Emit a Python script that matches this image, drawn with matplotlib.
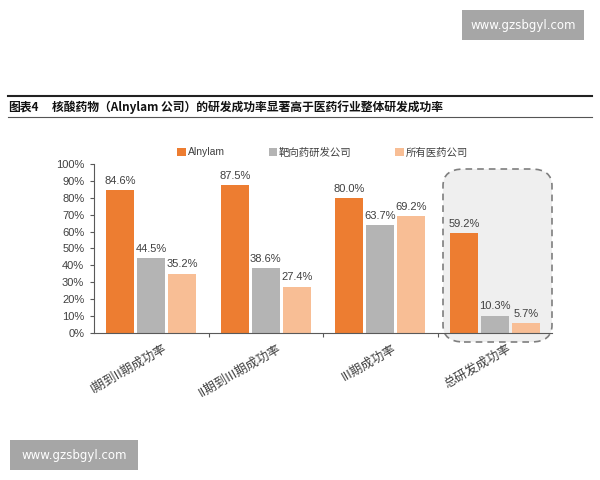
import matplotlib
matplotlib.use("Agg")
import matplotlib.pyplot as plt
from matplotlib.patches import FancyBboxPatch, Rectangle
import numpy as np

plt.rcParams['font.family'] = ['Noto Sans CJK SC', 'DejaVu Sans']

categories = ["I期到II期成功率", "II期到III期成功率", "III期成功率", "总研发成功率"]
series_names = ["Alnylam", "靶向药研发公司", "所有医药公司"]
alnylam = [84.6, 87.5, 80.0, 59.2]
targeted = [44.5, 38.6, 63.7, 10.3]
all_pharma = [35.2, 27.4, 69.2, 5.7]
colors = ["#ED7D31", "#B4B4B4", "#F8BE95"]

fig = plt.figure(figsize=(6, 4.8), dpi=100)
ax = fig.add_axes([94/600, 1 - 333/480, (552-94)/600, (333-164)/480])

x = np.arange(len(categories))
w = 0.245
off = 0.27

# highlight box behind the last group
box = FancyBboxPatch((443/600, 1 - 342/480), (552-443)/600, (342-169)/480,
                     boxstyle="round,pad=0,rounding_size=0.035",
                     transform=fig.transFigure, facecolor="#EFEFEF",
                     edgecolor="#7F7F7F", linestyle=(0, (4, 3)), lw=1.2,
                     zorder=0.5, clip_on=False)
ax.add_patch(box)

for k, (vals, c) in enumerate(zip([alnylam, targeted, all_pharma], colors)):
    pos = x + (k - 1) * off
    ax.bar(pos, vals, width=w, color=c, zorder=2, label=series_names[k])
    for p, v in zip(pos, vals):
        ax.text(p, v + 2.5, f"{v:.1f}%", ha="center", va="bottom",
                fontsize=8, color="#404040", family=["Liberation Sans", "DejaVu Sans"])

ax.set_xlim(-0.5, 3.5)
ax.set_ylim(0, 100)
ax.set_yticks(np.arange(0, 101, 10))
ax.set_yticklabels([f"{v}%" for v in range(0, 101, 10)],
                   fontsize=8, color="#404040", family=["Liberation Sans", "DejaVu Sans"])
ax.set_xticks([0.5, 1.5, 2.5])
ax.set_xticklabels([])
ax.tick_params(axis="x", length=3, color="#595959", direction="out")
ax.tick_params(axis="y", length=3, color="#595959", pad=4)
for s in ["top", "right"]:
    ax.spines[s].set_visible(False)
ax.spines["left"].set_color("#595959")
ax.spines["bottom"].set_color("#595959")
ax.spines["bottom"].set_zorder(3)

for i, cat in enumerate(categories):
    ax.text(i + 0.1, -5, cat, rotation=30, rotation_mode="anchor",
            ha="right", va="top", fontsize=9, color="#404040")

ax.legend(loc="upper left", bbox_to_anchor=(168/600, 1 - 138/480),
          bbox_transform=fig.transFigure, ncol=3, frameon=False,
          prop={"family": ["Liberation Sans", "Noto Sans CJK SC"], "size": 7.5},
          handlelength=0.8, handleheight=0.8, handletextpad=0.2,
          columnspacing=4.2, labelcolor="#404040")

# header
fig.add_artist(plt.Line2D([8/600, 592/600], [1 - 96/480] * 2, color="#222222", lw=1.5))
fig.add_artist(plt.Line2D([8/600, 592/600], [1 - 117/480] * 2, color="#555555", lw=0.8))
fig.text(8/600, 1 - 107/480, "图表4", fontsize=8.5, fontweight="bold", va="center", color="#111111")
fig.text(52/600, 1 - 107/480, "核酸药物（Alnylam 公司）的研发成功率显著高于医药行业整体研发成功率",
         fontsize=8.5, fontweight="bold", va="center", color="#111111")

# watermarks
for (x0, y0, ww, hh) in [(462, 10, 122, 30), (10, 440, 128, 30)]:
    fig.patches.append(Rectangle((x0/600, 1 - (y0+hh)/480), ww/600, hh/480,
                                 transform=fig.transFigure, facecolor="#A6A6A6",
                                 edgecolor="none"))
    fig.text((x0 + ww/2)/600, 1 - (y0 + hh/2)/480, "www.gzsbgyl.com",
             ha="center", va="center", color="white", fontsize=8.5,
             family=["DejaVu Sans"])

fig.savefig("out.png", dpi=100)
